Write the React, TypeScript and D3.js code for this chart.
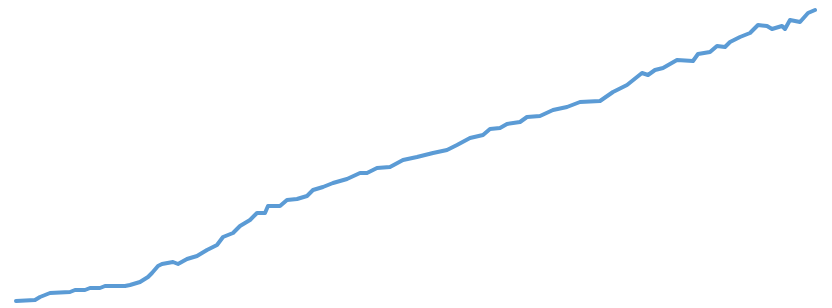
import * as React from "react";
import * as d3 from "d3";

// period (x) and index value (y)
const periods = [
  0, 19, 24, 34, 54, 59, 69, 74, 84, 89, 109, 114, 124, 132, 136, 142, 146, 157, 162, 171,
  181, 191, 201, 207, 217, 224, 234, 241, 249, 252, 264, 271, 281, 291, 297, 307, 317, 331,
  344, 351, 361, 374, 387, 401, 417, 431, 441, 454, 467, 474, 484, 491, 504, 511, 524, 537,
  551, 564, 584, 597, 611, 626, 632, 639, 647, 661, 677, 682, 694, 701, 709, 714, 724, 734,
  742, 751, 756, 766, 769, 774, 784, 792, 799,
];
const values = [
  0, 1, 4, 8, 9, 11, 11, 13, 13, 15, 15, 16, 19, 24, 28, 35, 37, 39, 37, 42,
  45, 51, 56, 64, 68, 75, 81, 88, 88, 95, 95, 101, 102, 105, 111, 114, 118, 122,
  128, 128, 133, 134, 141, 144, 148, 151, 156, 163, 166, 172, 173, 177, 179, 184, 185, 191,
  194, 199, 200, 209, 216, 228, 226, 231, 233, 241, 240, 247, 249, 255, 254, 259, 264, 268,
  276, 275, 272, 275, 272, 281, 279, 288, 291,
];

const WIDTH = 832;
const HEIGHT = 308;
const MARGIN = { top: 10, right: 17, bottom: 7, left: 16 };

export default function App() {
  React.useEffect(() => {
    document.body.style.margin = "0";
  }, []);

  const x = d3
    .scaleLinear()
    .domain([0, d3.max(periods) as number])
    .range([MARGIN.left, WIDTH - MARGIN.right]);
  const y = d3
    .scaleLinear()
    .domain([0, d3.max(values) as number])
    .range([HEIGHT - MARGIN.bottom, MARGIN.top]);

  const line = d3
    .line<number>()
    .x((_, i) => x(periods[i]))
    .y((v) => y(v));

  return (
    <svg width={WIDTH} height={HEIGHT} style={{ display: "block", background: "#fff" }}>
      <path
        d={line(values) ?? ""}
        fill="none"
        stroke="#5b9bd5"
        strokeWidth={4}
        strokeLinejoin="round"
        strokeLinecap="round"
      />
    </svg>
  );
}
